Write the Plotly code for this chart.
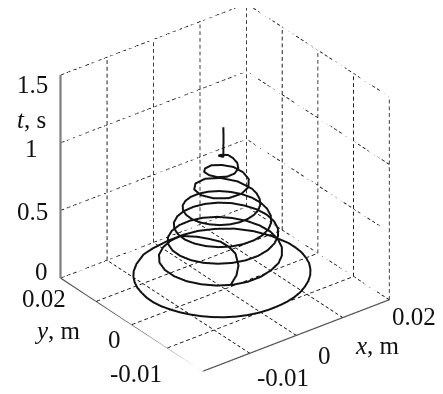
import plotly.graph_objects as go
import numpy as np

# ---- values ----
x_mm = [1.47,4.13,6.21,7.99,8.33,8.10,6.91,5.72,3.39,0.40,-3.16,-6.09,-9.12,-11.10,-12.38,-13.45,-14.27,-14.84,-15.23,-15.36,-15.14,-14.67,-13.99,-13.08,-11.95,-10.62,-9.14,-7.51,-5.74,-3.87,-1.95,0,1.94,3.85,5.66,7.38,8.96,10.38,11.57,12.56,13.23,13.68,13.78,13.65,
12.69,11.08,8.81,6.06,3.09,0,-3.01,-5.72,-8.02,-9.75,-10.71,-10.92,-10.39,-9.16,-7.42,-5.20,-2.65,0,2.56,4.95,6.94,8.50,9.48,
9.78,9.43,8.44,6.88,4.86,2.52,0,-2.53,-4.90,-6.94,-8.47,-9.36,-9.61,-9.20,-8.19,-6.65,-4.68,-2.41,0,2.39,4.59,6.47,7.89,8.75,
9.01,8.65,7.73,6.29,4.44,2.29,0,-2.28,-4.40,-6.21,-7.55,-8.34,-8.57,-8.21,-7.30,-5.93,-4.15,-2.13,0,2.10,4.02,5.64,6.83,7.55,
7.75,7.42,6.59,5.33,3.74,1.92,0,-1.90,-3.64,-5.13,-6.25,-6.91,-7.08,-6.77,-6.00,-4.85,-3.38,-1.71,0,1.63,3.09,4.30,5.19,5.72,
5.87,4.95,2.80,0,-2.71,-4.58,-5.12,-4.35,-2.43,0,2.17,3.55,3.92,3.30,1.88,0,-1.83,-3.10,-3.38,-2.78,-1.52,0,1.24,1.85,1.71,1.26,0.60,0,-0.60,
-0.20,-0.18,-0.22,-0.17,-0.20,-0.20]
y_mm = [0.38,2.16,4.29,7.45,9.84,11.78,13.59,15.12,16.84,16.59,15.88,14.86,12.89,11.10,9.51,7.76,5.92,3.98,2.01,0,-1.98,-3.93,-5.79,-7.55,-9.16,-10.62,-11.91,-13.00,-13.83,-14.42,-14.76,-14.85,-14.72,-14.34,-13.68,-12.78,-11.68,-10.38,-8.89,-7.25,-5.51,-3.67,-1.85,0,
3.40,6.40,8.81,10.49,11.54,11.77,11.21,9.90,8.02,5.63,2.87,0,-2.78,-5.29,-7.42,-9.01,-9.89,-10.07,-9.56,-8.57,-6.94,-4.91,-2.54,
0,2.53,4.87,6.88,8.42,9.41,9.76,9.45,8.48,6.94,4.89,2.51,0,-2.47,-4.73,-6.65,-8.11,-9.00,-9.27,-8.90,-7.95,-6.47,-4.56,-2.35,
0,2.32,4.46,6.29,7.68,8.56,8.84,8.52,7.63,6.21,4.36,2.24,0,-2.20,-4.22,-5.93,-7.20,-7.96,-8.17,-7.83,-6.96,-5.64,-3.94,-2.02,
0,1.99,3.81,5.33,6.47,7.17,7.37,7.07,6.31,5.13,3.61,1.85,0,-1.82,-3.46,-4.85,-5.85,-6.38,-6.45,-6.10,-5.35,-4.30,-3.00,-1.53,
0,2.86,4.85,5.49,4.70,2.64,0,-2.51,-4.21,-4.61,-3.77,-2.05,0,1.90,3.25,3.72,3.18,1.79,0,-1.60,-2.63,-2.73,-2.14,-1.07,0,0.73,1.03,1.19,1.03,
0.16,0.18,0.14,0.16,0.15,0.16]
t_s = [0,.008,.018,.028,.034,.04,.046,.05,.058,.065,.072,.08,.084,.087,.089,.092,.095,.098,.10,.103,.105,.108,.11,.112,.113,.114,.116,.118,.12,.122,.125,.128,.13,.133,.135,.138,.14,.143,.145,.148,.15,.153,.156,.160,
.165,.171,.178,.184,.19,.197,.205,.213,.22,.226,.232,.238,.242,.246,.25,.254,.258,.263,.268,.272,.275,.279,.285,
.295,.301,.308,.315,.324,.331,.337,.343,.349,.354,.360,.365,.371,.376,.382,.388,.393,.398,.403,.408,.414,.418,.422,.426,
.430,.434,.437,.443,.447,.451,.455,.459,.463,.466,.470,.474,.477,.481,.485,.489,.492,.496,.500,.504,.508,.513,.520,.527,
.534,.541,.548,.555,.563,.570,.577,.584,.591,.598,.602,.606,.609,.612,.616,.619,.622,.625,.629,.632,.635,.639,.646,.654,
.662,.680,.700,.720,.735,.750,.760,.770,.775,.782,.788,.80,.81,.825,.835,.85,.86,.875,.885,.89,.895,.90,.91,.925,.945,.96,.965,.97,.975,
.975,1.0,1.05,1.10,1.15,1.195]

x_ticks = [-0.02, -0.01, 0, 0.01, 0.02]
y_ticks = [-0.02, -0.01, 0, 0.01, 0.02]
t_ticks = [0, 0.5, 1, 1.5]
x_labels = {-0.01: "-0.01", 0: "0", 0.02: "0.02"}
y_labels = {-0.01: "-0.01", 0: "0", 0.02: "0.02"}
t_labels = {0: "0", 0.5: "0.5", 1: "1", 1.5: "1.5"}

# ---- label offsets in pixels (dx, dy up) ----
x_shift = {-0.01: (33, -24), 0: (28, -20), 0.02: (25, -17)}
y_shift = {-0.01: (-32, -26), 0: (-17, -15), 0.02: (-17, -20)}
t_shift = {0: (-19, 7), 0.5: (-28, -1), 1: (-29, -6), 1.5: (-28, -9)}

x0, x1 = x_ticks[0], x_ticks[-1]
y0, y1 = y_ticks[0], y_ticks[-1]
t0, t1 = t_ticks[0], t_ticks[-1]

def segs(pairs):
    xs, ys, zs = [], [], []
    for a, b in pairs:
        xs += [a[0], b[0], None]; ys += [a[1], b[1], None]; zs += [a[2], b[2], None]
    return xs, ys, zs

def dashed(pairs, n=30, on=0.58):
    out = []
    for a, b in pairs:
        a, b = np.array(a, float), np.array(b, float)
        for i in range(n):
            s = a + (b - a) * i / n
            e = a + (b - a) * (i + on) / n
            out.append((tuple(s), tuple(e)))
    return out

grid = []
for v in x_ticks:
    if v != x0:
        grid.append(((v, y0, t0), (v, y1, t0)))
        grid.append(((v, y1, t0), (v, y1, t1)))
for v in y_ticks:
    if v != y0:
        grid.append(((x0, v, t0), (x1, v, t0)))
    grid.append(((x1, v, t0), (x1, v, t1)))
for v in t_ticks:
    if v != t0:
        grid.append(((x0, y1, v), (x1, y1, v)))
        grid.append(((x1, y0, v), (x1, y1, v)))
gx, gy, gz = segs(dashed(grid))

tick_len = 0.0009
z_axis = [((x0, y1, t0), (x0, y1, t1))]
xy_axes = [((x0, y0, t0), (x1, y0, t0)), ((x0, y0, t0), (x0, y1, t0))]
ticks = []
for v in x_ticks:
    ticks.append(((v, y0, t0), (v, y0 - tick_len, t0)))
for v in y_ticks:
    ticks.append(((x0, v, t0), (x0 - tick_len, v, t0)))
for v in t_ticks:
    ticks.append(((x0, y1, v), (x0 + tick_len, y1, v)))

fig = go.Figure()
fig.add_trace(go.Scatter3d(x=gx, y=gy, z=gz, mode="lines",
                           line=dict(color="#000000", width=1.6),
                           connectgaps=False, hoverinfo="skip", showlegend=False))
for pairs, col, w in [(z_axis, "#808080", 4.5), (xy_axes, "#555555", 2.5), (ticks, "#333333", 1.6)]:
    a, b, c = segs(pairs)
    fig.add_trace(go.Scatter3d(x=a, y=b, z=c, mode="lines", line=dict(color=col, width=w),
                               connectgaps=False, hoverinfo="skip", showlegend=False))
fig.add_trace(go.Scatter3d(x=np.array(x_mm) / 1000, y=np.array(y_mm) / 1000, z=t_s, mode="lines",
                           line=dict(color="#111111", width=4), showlegend=False))

font = dict(family="Liberation Serif, Times New Roman, serif", size=25, color="#111111")
ann = []
def add(x, y, z, text, dx, dy):
    ann.append(dict(x=x, y=y, z=z, text=text, showarrow=False, xanchor="center", yanchor="middle",
                    xshift=dx, yshift=dy, font=font))
for v, s in x_labels.items():
    add(v, y0, t0, s, *x_shift[v])
for v, s in y_labels.items():
    add(x0, v, t0, s, *y_shift[v])
for v, s in t_labels.items():
    add(x0, y1, v, s, *t_shift[v])
add(0.01, y0, t0, "<i>x</i>, m", 35, -28)
add(x0, 0.01, t0, "<i>y</i>, m", -39, -29)
add(x0, y1, 1.25, "<i>t</i>, s", -29, -11)

hidden = dict(visible=False, showgrid=False, zeroline=False, showspikes=False)
az, el = np.radians(37.5), np.radians(30)
dist = 1.672
cube = 1.19
cx, cy, cz = 0.0185, -0.0142, -0.103
fig.update_layout(
    width=443, height=394, margin=dict(l=0, r=0, t=0, b=0),
    paper_bgcolor="white", showlegend=False,
    scene=dict(
        bgcolor="white",
        domain=dict(x=[0, 1], y=[0, 1]),
        aspectmode="manual", aspectratio=dict(x=cube, y=cube, z=cube),
        xaxis=dict(range=[x0, x1], **hidden),
        yaxis=dict(range=[y0, y1], **hidden),
        zaxis=dict(range=[t0, t1], **hidden),
        camera=dict(projection=dict(type="orthographic"), up=dict(x=0, y=0, z=1),
                    center=dict(x=cx, y=cy, z=cz),
                    eye=dict(x=cx - np.sin(az) * np.cos(el) * dist,
                             y=cy - np.cos(az) * np.cos(el) * dist,
                             z=cz + np.sin(el) * dist)),
        annotations=ann,
    ),
)
fig.write_html("out.html", config=dict(displayModeBar=False))
